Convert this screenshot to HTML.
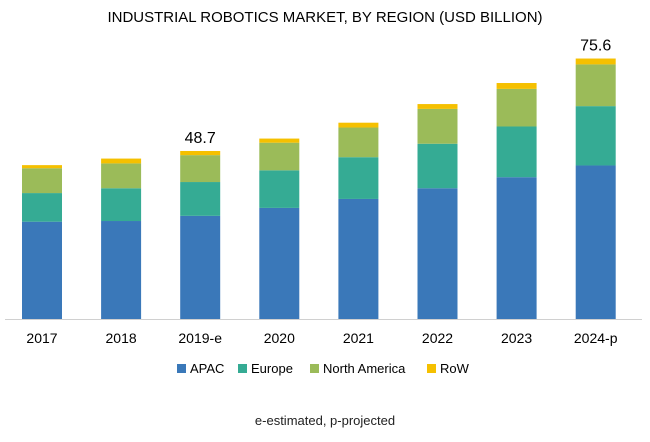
<!DOCTYPE html>
<html><head><meta charset="utf-8"><style>
body{margin:0;background:#fff;font-family:"Liberation Sans",Arial,sans-serif}
</style></head><body>
<svg width="650" height="437" xmlns="http://www.w3.org/2000/svg">
<text x="325" y="22" text-anchor="middle" font-size="15" fill="#000">INDUSTRIAL ROBOTICS MARKET, BY REGION (USD BILLION)</text>
<g id="bars"></g>
<line x1="5" y1="319.5" x2="642" y2="319.5" stroke="#d0d0d0"/>
<g id="labels"></g>
<g id="legend"></g>
<text x="325" y="425" text-anchor="middle" font-size="13" fill="#222">e-estimated, p-projected</text>
</svg>
<script>
const categories=["2017","2018","2019-e","2020","2021","2022","2023","2024-p"];
const seriesNames=["APAC","Europe","North America","RoW"];
const apac=[28.2,28.4,29.9,32.2,34.8,37.9,41.1,44.5];
const europe=[8.3,9.5,9.8,10.9,12.1,12.9,14.7,17.2];
const northAmerica=[7.2,7.2,7.8,8.0,8.6,10.1,10.9,12.1];
const row=[0.9,1.4,1.2,1.2,1.4,1.4,1.7,1.7];
const totalLabels=[null,null,"48.7",null,null,null,null,"75.6"];
const colors=["#3a78b9","#35ab94","#9bbb59","#f5c000"];
const series=[apac,europe,northAmerica,row];
const NS="http://www.w3.org/2000/svg";
const base=319, k=3.45;
const y=v=>base-v*k;
const xc=i=>42+i*79.1;
const bw=40;
const gb=document.getElementById('bars'),gl=document.getElementById('labels'),gg=document.getElementById('legend');
categories.forEach((c,i)=>{
  let cum=0;
  series.forEach((s,j)=>{
    const r=document.createElementNS(NS,'rect');
    r.setAttribute('x',xc(i)-bw/2);r.setAttribute('width',bw);
    r.setAttribute('y',y(cum+s[i]));r.setAttribute('height',s[i]*k);
    r.setAttribute('fill',colors[j]);
    
    
    gb.appendChild(r);cum+=s[i];
  });
  if(totalLabels[i]){
    const t=document.createElementNS(NS,'text');
    t.setAttribute('x',xc(i));t.setAttribute('y',y(cum)-8);
    t.setAttribute('text-anchor','middle');t.setAttribute('font-size','16');
    t.textContent=totalLabels[i];
    
    
    gl.appendChild(t);
  }
  const t=document.createElementNS(NS,'text');
  t.setAttribute('x',xc(i));t.setAttribute('y',343);
  t.setAttribute('text-anchor','middle');t.setAttribute('font-size','14');
  t.textContent=c;
  
  
  gl.appendChild(t);
});
const lx=[177,238,310,427];
seriesNames.forEach((n,j)=>{
  const g=document.createElementNS(NS,'g');
  
  
  const r=document.createElementNS(NS,'rect');
  r.setAttribute('x',lx[j]);r.setAttribute('y',364);r.setAttribute('width',9);r.setAttribute('height',9);
  r.setAttribute('fill',colors[j]);g.appendChild(r);
  const t=document.createElementNS(NS,'text');
  t.setAttribute('x',lx[j]+13);t.setAttribute('y',373);t.setAttribute('font-size','13');
  t.textContent=n;g.appendChild(t);
  gg.appendChild(g);
});
</script>
</body></html>
